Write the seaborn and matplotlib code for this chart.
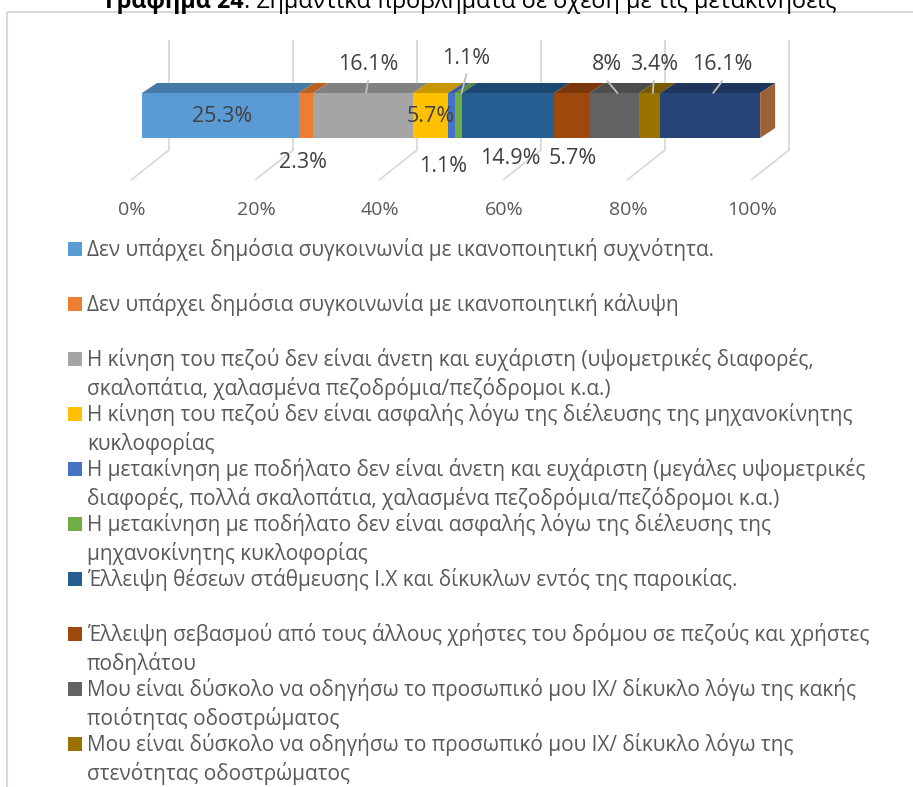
#%% Packages
import numpy as np
import matplotlib
matplotlib.use("Agg")
import matplotlib.pyplot as plt
from matplotlib.patches import Polygon, Rectangle
from matplotlib.colors import to_rgb
import seaborn as sns

#%% Data
categories = [
    "Δεν υπάρχει δημόσια συγκοινωνία με ικανοποιητική συχνότητα.",
    "Δεν υπάρχει δημόσια συγκοινωνία με ικανοποιητική κάλυψη",
    "Η κίνηση του πεζού δεν είναι άνετη και ευχάριστη (υψομετρικές διαφορές,\nσκαλοπάτια, χαλασμένα πεζοδρόμια/πεζόδρομοι κ.α.)",
    "Η κίνηση του πεζού δεν είναι ασφαλής λόγω της διέλευσης της μηχανοκίνητης\nκυκλοφορίας",
    "Η μετακίνηση με ποδήλατο δεν είναι άνετη και ευχάριστη (μεγάλες υψομετρικές\nδιαφορές, πολλά σκαλοπάτια, χαλασμένα πεζοδρόμια/πεζόδρομοι κ.α.)",
    "Η μετακίνηση με ποδήλατο δεν είναι ασφαλής λόγω της διέλευσης της\nμηχανοκίνητης κυκλοφορίας",
    "Έλλειψη θέσεων στάθμευσης Ι.Χ και δίκυκλων εντός της παροικίας.",
    "Έλλειψη σεβασμού από τους άλλους χρήστες του δρόμου σε πεζούς και χρήστες\nποδηλάτου",
    "Μου είναι δύσκολο να οδηγήσω το προσωπικό μου ΙΧ/ δίκυκλο λόγω της κακής\nποιότητας οδοστρώματος",
    "Μου είναι δύσκολο να οδηγήσω το προσωπικό μου ΙΧ/ δίκυκλο λόγω της\nστενότητας οδοστρώματος",
    "Άλλο",
]
shares = [25.3, 2.3, 16.1, 5.7, 1.1, 1.1, 14.9, 5.7, 8, 3.4, 16.1]
value_labels = ["25.3%", "2.3%", "16.1%", "5.7%", "1.1%", "1.1%",
                "14.9%", "5.7%", "8%", "3.4%", "16.1%"]
tick_values = [0, 20, 40, 60, 80, 100]
tick_labels = ["0%", "20%", "40%", "60%", "80%", "100%"]

colors = ["#5B9BD5", "#ED7D31", "#A5A5A5", "#FFC000", "#4472C4", "#70AD47",
          "#255E91", "#9E480E", "#636363", "#997300", "#264478"]

# label placement (pixel nudges), Excel put them here
label_place = ["inside", "below", "above", "inside", "below", "above",
               "below", "below", "above", "above", "above"]
label_dx = [2, -3, 5, 0, -9, 8, 2, 1, -7, 4, 12]
label_y = [117, 162, 65, 117, 166, 58, 158, 159, 65, 65, 65]

#%% Layout (pixels)
W, H = 913, 787
X0, SCALE = 142, 6.2          # front face 0% and px per %
BAR_TOP, BAR_BOT = 93, 138
DEPTH_X, DEPTH_Y = 15, 10
BACK_OFF, FLOOR_OFF = 27, -11
GRID_TOP, GRID_BOT, FLOOR_Y = 40, 150, 180
TXT = "#595959"
GRID = "#D9D9D9"


def px(p):
    return (p - X0) / SCALE


def shade(c, f=0.78):
    return tuple(np.array(to_rgb(c)) * f)


def fit_size(text, size, target_px, **kw):
    # scale a font size so the text is target_px wide
    t = fig.text(0, 0, text, fontsize=size, **kw)
    w = t.get_window_extent(renderer=fig.canvas.get_renderer()).width
    t.remove()
    return size * target_px / w


sns.set_theme(style="white")
plt.rcParams['font.family'] = ['Open Sans', 'DejaVu Sans']

fig = plt.figure(figsize=(W / 100, H / 100), dpi=100)
ax = fig.add_axes([0, 0, 1, 1])
ax.set_xlim(px(0), px(W))
ax.set_ylim(H, 0)
ax.axis("off")

dd = DEPTH_X / SCALE
lefts = np.concatenate([[0], np.cumsum(shares)[:-1]])
rights = lefts + np.array(shares)
centers = lefts + np.array(shares) / 2
total = rights[-1]

# chart frame
ax.add_patch(Rectangle((px(6.5), 11.5), px(2000) - px(6.5), 2000, fill=False,
                       ec=GRID, lw=1.5, zorder=0))

#%% gridlines (back wall + floor)
for t in tick_values:
    ax.plot([t + BACK_OFF / SCALE, t + BACK_OFF / SCALE, t + FLOOR_OFF / SCALE],
            [GRID_TOP, GRID_BOT, FLOOR_Y], color=GRID, lw=1.3, zorder=1,
            solid_capstyle="butt")
for t, lab in zip(tick_values, tick_labels):
    ax.text(t + FLOOR_OFF / SCALE + 0.2, 210, lab, ha="center", va="center",
            fontsize=14, color=TXT)

#%% bar front, top and end faces
ax.barh(y=(BAR_TOP + BAR_BOT) / 2, width=shares, left=lefts,
        height=BAR_BOT - BAR_TOP, color=colors, zorder=3, linewidth=0)
for l, r, c in zip(lefts, rights, colors):
    ax.add_patch(Polygon([(l, BAR_TOP), (r, BAR_TOP), (r + dd, BAR_TOP - DEPTH_Y),
                          (l + dd, BAR_TOP - DEPTH_Y)], closed=True,
                         fc=shade(c), ec="none", zorder=3))
ax.add_patch(Polygon([(total, BAR_TOP), (total + dd, BAR_TOP - DEPTH_Y),
                      (total + dd, BAR_BOT - DEPTH_Y), (total, BAR_BOT)],
                     closed=True, fc="#9B6137", ec="none", zorder=3))

#%% data labels
for cx, lab, place, dx, y in zip(centers, value_labels, label_place, label_dx, label_y):
    lx = cx + dx / SCALE
    ax.text(lx, y, lab, ha="center", va="center", fontsize=15.5,
            color="#404040", zorder=5)
    if place == "above":
        ax.plot([cx + 3 / SCALE, lx], [BAR_TOP, y + 16], color="#BFBFBF",
                lw=1.3, zorder=4)

#%% legend
leg_size = fit_size(categories[0], 13.4, 630)
for i, (cat, c) in enumerate(zip(categories, colors)):
    yc = 249 + 55 * i
    if yc + 7 > H:
        break
    ax.add_patch(Rectangle((px(68), yc - 7), 14 / SCALE, 14, fc=c, ec="none",
                           zorder=3))
    for j, line in enumerate(cat.split("\n")):
        ax.text(px(87), yc + 7 + 29 * j, line, ha="left", va="baseline",
                fontsize=leg_size, color=TXT)

#%% title (bold part + normal part)
title_a = "Γράφημα 24"
title_b = ": Σημαντικά προβλήματα σε σχέση με τις μετακινήσεις"
wa = fit_size(title_a, 10, 1) 
wb = fit_size(title_b, 10, 1)
t_size = 10 * 725 / (10 / wa + 10 / wb)
t1 = fig.text(105 / W, 1 - 8 / H, title_a, ha="left", va="baseline",
              fontsize=t_size, fontweight="bold", color="black")
fig.canvas.draw()
bb = t1.get_window_extent()
fig.text(bb.x1 / W, 1 - 8 / H, title_b, ha="left", va="baseline",
         fontsize=t_size, color="black")

fig.savefig("out.png", dpi=100)
